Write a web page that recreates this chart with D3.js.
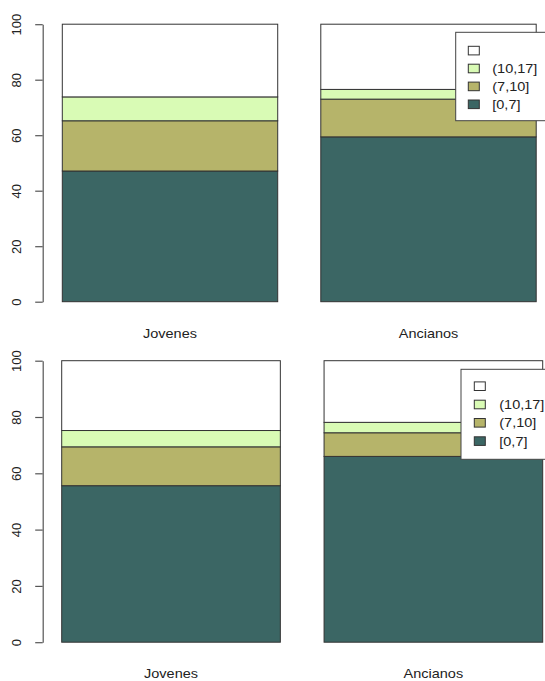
<!DOCTYPE html>
<html>
<head>
<meta charset="utf-8">
<script src="https://cdn.jsdelivr.net/npm/d3@7"></script>
<style>
  html, body { margin: 0; padding: 0; background: #ffffff; }
  svg { display: block; font-family: "Liberation Sans", Arial, sans-serif; }
</style>
</head>
<body>
<svg id="chart" width="545" height="681"></svg>
<script>
// ---- data ----
const categories = ["Jovenes", "Ancianos"];
const levels = ["[0,7]", "(7,10]", "(10,17]", ""];
const legendLabels = ["", "(10,17]", "(7,10]", "[0,7]"];
const yTicks = [0, 20, 40, 60, 80, 100];
const topJovenes = [47.1, 18.1, 8.6, 26.2];
const topAncianos = [59.4, 13.6, 3.5, 23.5];
const bottomJovenes = [55.6, 13.8, 5.8, 24.8];
const bottomAncianos = [66.0, 8.4, 3.7, 21.9];
const levelColors = ["#3b6664", "#b6b46a", "#d9fbb5", "#ffffff"];

// ---- layout (positions kept separate from data) ----
const panels = [
  { series: [topJovenes, topAncianos],
    y0: 301.7, y100: 24.2, xLo: 62.3, xHi: 536.2, axisX: 42.7, labelY: 337.5,
    legend: { x: 455.7, y: 32.3, h: 88.4, boxX: 468.3, textX: 492.3, row0: 50.6, step: 17.9 } },
  { series: [bottomJovenes, bottomAncianos],
    y0: 642.2, y100: 360.7, xLo: 61.7, xHi: 542.7, axisX: 42.7, labelY: 677.7,
    legend: { x: 461.0, y: 369.3, h: 90.0, boxX: 474.3, textX: 499.3, row0: 386.2, step: 18.3 } }
];

const svg = d3.select("#chart");
const stretch = 1.115;

panels.forEach(p => {
  const g = svg.append("g");
  const y = d3.scaleLinear().domain([0, 100]).range([p.y0, p.y100]);
  const x = d3.scaleBand().domain(categories).range([p.xLo, p.xHi])
    .paddingInner(0.2 / 1.2).paddingOuter(0);
  const color = d3.scaleOrdinal().domain(levels).range(levelColors);

  // stacked rows
  const rows = categories.map((c, i) => {
    const r = { cat: c };
    levels.forEach((l, j) => r[l] = p.series[i][j]);
    return r;
  });
  const stacked = d3.stack().keys(levels)(rows);

  stacked.forEach(layer => {
    g.selectAll(null).data(layer).enter().append("rect")
      .attr("x", d => x(d.data.cat))
      .attr("width", x.bandwidth())
      .attr("y", d => y(d[1]))
      .attr("height", d => y(d[0]) - y(d[1]))
      .attr("fill", color(layer.key))
      .attr("stroke", "#333333")
      .attr("stroke-width", 1);
  });

  // y axis
  const axis = d3.axisLeft(y).tickValues(yTicks).tickSize(7.5).tickSizeOuter(0)
    .tickFormat(d3.format("d"));
  const ag = g.append("g").attr("transform", `translate(${p.axisX},0)`).call(axis);
  ag.select(".domain").attr("stroke", "#555555").attr("stroke-width", 1.2);
  ag.selectAll(".tick line").attr("stroke", "#555555").attr("stroke-width", 1.2);
  ag.selectAll(".tick text")
    .attr("transform", "rotate(-90)")
    .attr("x", 0).attr("y", -21.5).attr("dy", null)
    .attr("text-anchor", "middle")
    .attr("fill", "#222222")
    .style("font-size", "13px")
    .style("font-family", "'Liberation Sans', Arial, sans-serif");

  // category labels
  g.selectAll(null).data(categories).enter().append("text")
    .attr("transform", d => `translate(${x(d) + x.bandwidth() / 2},${p.labelY}) scale(${stretch},1)`)
    .attr("text-anchor", "middle")
    .attr("fill", "#222222")
    .style("font-size", "13px")
    .text(d => d);

  // legend
  const L = p.legend;
  const lg = g.append("g");
  lg.append("rect")
    .attr("x", L.x).attr("y", L.y).attr("width", 120).attr("height", L.h)
    .attr("fill", "#ffffff").attr("stroke", "#444444").attr("stroke-width", 1);
  const legendColors = legendLabels.map((d, i) => levelColors[levelColors.length - 1 - i]);
  legendLabels.forEach((lab, i) => {
    const cy = L.row0 + i * L.step;
    lg.append("rect")
      .attr("x", L.boxX).attr("y", cy - 4.3).attr("width", 11).attr("height", 8.6)
      .attr("fill", legendColors[i]).attr("stroke", "#333333").attr("stroke-width", 1);
    lg.append("text")
      .attr("transform", `translate(${L.textX},${cy + 4.6}) scale(${stretch},1)`)
      .attr("fill", "#222222")
      .style("font-size", "13px")
      .text(lab);
  });
});
</script>
</body>
</html>
